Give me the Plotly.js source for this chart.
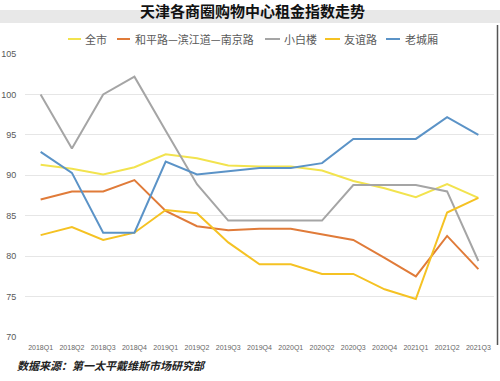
<!DOCTYPE html>
<html>
<head>
<meta charset="utf-8">
<script src="https://cdn.plot.ly/plotly-3.0.1.min.js"></script>
<style>html,body{margin:0;padding:0;background:#fff;}#chart{width:500px;height:381px;}</style>
</head>
<body>
<div id="chart"></div>
<script>
const categories = ["2018Q1","2018Q2","2018Q3","2018Q4","2019Q1","2019Q2","2019Q3","2019Q4","2020Q1","2020Q2","2020Q3","2020Q4","2021Q1","2021Q2","2021Q3"];
const seriesNames = ["全市","和平路—滨江道—南京路","小白楼","友谊路","老城厢"];
const quanshi   = [91.3,90.8,90.1,91.0,92.6,92.1,91.2,91.1,91.1,90.6,89.3,88.4,87.3,88.9,87.2];
const hepinglu  = [87.0,88.0,88.0,89.4,85.6,83.7,83.2,83.4,83.4,82.7,82.0,79.8,77.5,82.5,78.4];
const xiaobailou= [100.0,93.3,100.0,102.2,95.5,88.9,84.4,84.4,84.4,84.4,88.8,88.8,88.8,88.0,79.4];
const youyilu   = [82.6,83.6,82.0,82.9,85.7,85.3,81.7,79.0,79.0,77.8,77.8,75.9,74.7,85.4,87.2];
const laochengxiang = [92.9,90.3,82.9,82.9,91.7,90.1,90.5,90.9,90.9,91.5,94.5,94.5,94.5,97.2,95.0];
const yTicks = [70,75,80,85,90,95,100,105];

const values = [quanshi, hepinglu, xiaobailou, youyilu, laochengxiang];
const colors = ["#F2E34E","#E07B39","#A5A5A5","#F5C223","#5B93C7"];

// plot-area geometry in pixels
const L = 25, R = 6, T = 54, B = 44, W = 500, H = 381;
const pw = W - L - R, ph = H - T - B;
const px2x = p => (p - L) / pw;
const px2y = p => (H - B - p) / ph;

const traces = values.map((v, i) => ({
  type: "scatter", mode: "lines", x: categories, y: v, name: seriesNames[i],
  line: {color: colors[i], width: 2}, showlegend: false, hoverinfo: "skip"
}));

const font = "Liberation Sans, Noto Sans CJK SC, sans-serif";
const shapes = [
  {type: "rect", xref: "paper", yref: "paper", x0: px2x(0), x1: px2x(500), y0: px2y(23), y1: px2y(10),
   fillcolor: "#E8E8E8", line: {width: 0}, layer: "below"},
  {type: "line", xref: "paper", yref: "paper", x0: px2x(497.5), x1: px2x(497.5), y0: px2y(345), y1: px2y(25),
   line: {color: "#555", width: 1.5}}
];
const annotations = [
  {xref: "paper", yref: "paper", x: px2x(15), y: px2y(365), xanchor: "left", yanchor: "middle",
   text: "<b><i>数据来源：第一太平戴维斯市场研究部</i></b>", showarrow: false,
   font: {family: "Noto Sans CJK SC, sans-serif", size: 11, color: "#222"}}
];
const legendLine = [[68,81],[117,130],[265,280],[325,340],[386,400]];
const legendText = [83,133,282,342,403];
seriesNames.forEach((n, i) => {
  shapes.push({type: "line", xref: "paper", yref: "paper", x0: px2x(legendLine[i][0]), x1: px2x(legendLine[i][1]),
    y0: px2y(39), y1: px2y(39), line: {color: colors[i], width: 2}});
  annotations.push({xref: "paper", yref: "paper", x: px2x(legendText[i]), y: px2y(39), xanchor: "left", yanchor: "middle",
    text: n, showarrow: false, font: {family: "Noto Sans CJK SC, sans-serif", size: 11, color: "#595959"}});
});

const layout = {
  width: W, height: H, margin: {l: L, r: R, t: T, b: B},
  paper_bgcolor: "#fff", plot_bgcolor: "#fff",
  title: {text: "<b>天津各商圈购物中心租金指数走势</b>", x: 242.5 / W, xanchor: "center", xref: "paper",
    y: 1 - 12 / H, yanchor: "middle", yref: "container",
    font: {family: "Noto Sans CJK SC, sans-serif", size: 15, color: "#111"}},
  xaxis: {type: "category", range: [-0.5, 14.5], showgrid: false, zeroline: false, showline: false,
    ticks: "outside", ticklen: 4, tickcolor: "rgba(0,0,0,0)",
    tickfont: {family: font, size: 7, color: "#666"}, fixedrange: true},
  yaxis: {range: [70, 105], tickvals: yTicks, ticktext: yTicks.map(String), showgrid: true, gridcolor: "#E6E6E6",
    gridwidth: 1, zeroline: false, showline: false, ticks: "outside", ticklen: 6, tickcolor: "rgba(0,0,0,0)",
    tickfont: {family: font, size: 9, color: "#595959"}, fixedrange: true},
  shapes: shapes, annotations: annotations, showlegend: false
};
Plotly.newPlot("chart", traces, layout, {displayModeBar: false, staticPlot: true});
</script>
</body>
</html>
